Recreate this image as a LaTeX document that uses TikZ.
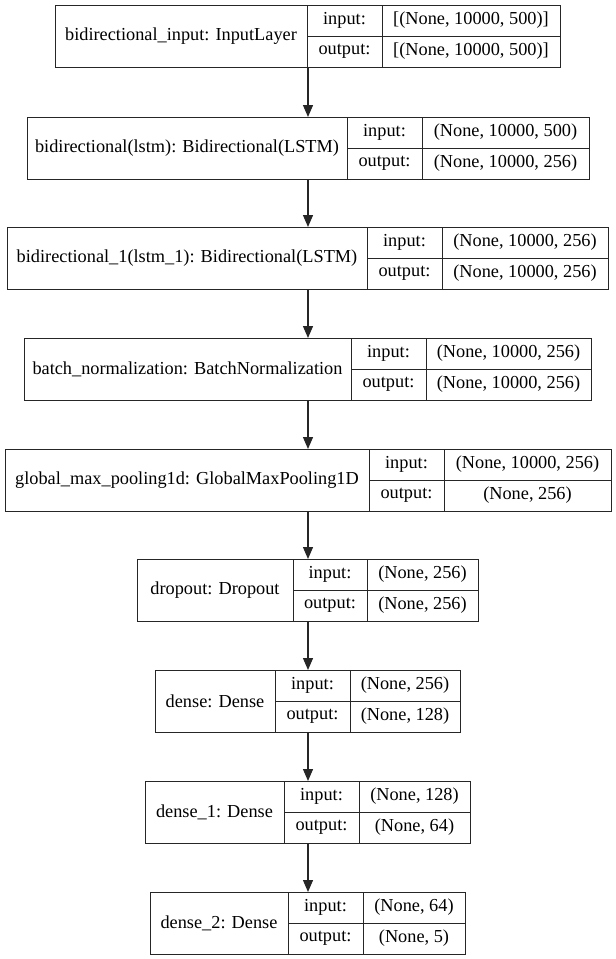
\documentclass[tikz,border=0pt]{standalone}
\usepackage{fontspec}
\setmainfont{Liberation Serif}
\usetikzlibrary{arrows.meta}
\tikzset{
  layerbox/.style={draw=black!85, line width=1pt, rectangle, inner sep=0pt, outer sep=0pt},
  cellline/.style={draw=black!85, line width=1pt},
  txt/.style={inner sep=0pt, font=\fontsize{18.3}{22}\selectfont, text=black},
  arr/.style={draw=black!85, line width=1.3pt, -{Triangle[length=12pt,width=10pt]}}
}
% #1 name, #2 x1, #3 x2, #4 ytop, #5 d1, #6 d2, #7 label, #8 in, #9 out
\newcommand{\mylayer}[9]{%
  \node[layerbox, minimum width={(#3-#2)*1pt}, minimum height=62pt] (#1) at ({(#2+#3)/2},{#4+31}) {};
  \draw[cellline] (#5,#4) -- (#5,#4+62);
  \draw[cellline] (#6,#4) -- (#6,#4+62);
  \draw[cellline] (#5,#4+31) -- (#3,#4+31);
  \node[txt] (#1-lab) at ({(#2+#5)/2},{#4+31}) {#7};
  \node[txt] (#1-pi) at ({(#5+#6)/2},{#4+15.5}) {input:};
  \node[txt] (#1-po) at ({(#5+#6)/2},{#4+46.5}) {output:};
  \node[txt] (#1-vi) at ({(#6+#3)/2},{#4+15.5}) {#8};
  \node[txt] (#1-vo) at ({(#6+#3)/2},{#4+46.5}) {#9};
}
\begin{document}
\begin{tikzpicture}[x=1pt,y=-1pt]
\useasboundingbox (0,0) rectangle (616,959);
\mylayer{l1}{55}{560}{5}{307}{382}{bidirectional\_input: InputLayer}{[(None, 10000, 500)]}{[(None, 10000, 500)]}
\mylayer{l2}{27}{589}{117}{347}{422}{bidirectional(lstm): Bidirectional(LSTM)}{(None, 10000, 500)}{(None, 10000, 256)}
\mylayer{l3}{7}{608}{227}{367}{442}{bidirectional\_1(lstm\_1): Bidirectional(LSTM)}{(None, 10000, 256)}{(None, 10000, 256)}
\mylayer{l4}{24}{591}{338}{351}{426}{batch\_normalization: BatchNormalization}{(None, 10000, 256)}{(None, 10000, 256)}
\mylayer{l5}{5}{611}{449}{369}{444}{global\_max\_pooling1d: GlobalMaxPooling1D}{(None, 10000, 256)}{(None, 256)}
\mylayer{l6}{137}{478}{559}{293}{367}{dropout: Dropout}{(None, 256)}{(None, 256)}
\mylayer{l7}{155}{460}{670}{275}{350}{dense: Dense}{(None, 256)}{(None, 128)}
\mylayer{l8}{145}{470}{781}{284}{359}{dense\_1: Dense}{(None, 128)}{(None, 64)}
\mylayer{l9}{150}{465}{892}{288}{363}{dense\_2: Dense}{(None, 64)}{(None, 5)}
\foreach \a/\b in {l1/l2,l2/l3,l3/l4,l4/l5,l5/l6,l6/l7,l7/l8,l8/l9}{
  \draw[arr] (308,0 |- \a.south) -- (308,0 |- \b.north);
}
\end{tikzpicture}
\end{document}
